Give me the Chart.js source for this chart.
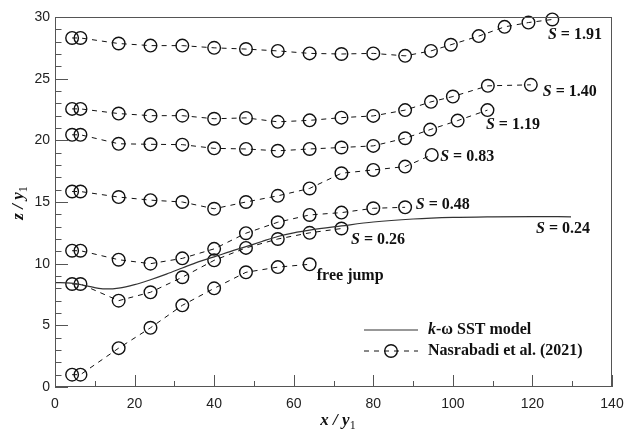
<!DOCTYPE html>
<html>
<head>
<meta charset="utf-8">
<script src="https://cdn.jsdelivr.net/npm/chart.js@4/dist/chart.umd.min.js"></script>
<style>
html,body{margin:0;padding:0;background:#fff;}
#wrap{width:636px;height:430px;position:relative;}
</style>
</head>
<body>
<div id="wrap"><canvas id="c" width="636" height="430"></canvas></div>
<script>
// ---- data ----
const xTicks = [0, 20, 40, 60, 80, 100, 120, 140];
const yTicks = [0, 5, 10, 15, 20, 25, 30];

const sstX = [0, 4, 8, 11, 13, 16, 20, 24, 28, 32, 36, 40, 44, 48, 52, 56, 60, 64, 72, 80, 90, 100, 110, 120, 129.7];
const sstZ = [8.47, 8.42, 8.2, 8.0, 7.95, 8.02, 8.3, 8.7, 9.15, 9.65, 10.15, 10.55, 10.98, 11.38, 11.8, 12.2, 12.5, 12.72, 13.06, 13.38, 13.62, 13.75, 13.8, 13.82, 13.8];

const s191X = [4.3, 6.4, 16, 24, 32, 40, 48, 56, 64, 72, 80, 88, 94.5, 99.5, 106.5, 113, 119, 125];
const s191Z = [28.3, 28.3, 27.85, 27.68, 27.68, 27.5, 27.4, 27.25, 27.05, 27.0, 27.05, 26.85, 27.25, 27.75, 28.45, 29.2, 29.55, 29.8];

const s140X = [4.3, 6.4, 16, 24, 32, 40, 48, 56, 64, 72, 80, 88, 94.5, 100, 108.8, 119.6];
const s140Z = [22.55, 22.55, 22.17, 22.0, 22.0, 21.75, 21.82, 21.5, 21.62, 21.84, 21.98, 22.45, 23.12, 23.55, 24.42, 24.5];

const s119X = [4.3, 6.4, 16, 24, 32, 40, 48, 56, 64, 72, 80, 88, 94.3, 101.2, 108.7];
const s119Z = [20.45, 20.45, 19.72, 19.68, 19.65, 19.35, 19.3, 19.15, 19.3, 19.42, 19.55, 20.17, 20.87, 21.6, 22.45];

const s083X = [4.3, 6.4, 16, 24, 32, 40, 48, 56, 64, 72, 80, 88, 94.7];
const s083Z = [15.85, 15.85, 15.4, 15.15, 15.0, 14.45, 15.0, 15.5, 16.1, 17.33, 17.6, 17.87, 18.82];

const s048X = [4.3, 6.4, 16, 24, 32, 40, 48, 56, 64, 72, 80, 88];
const s048Z = [11.05, 11.05, 10.32, 10.0, 10.43, 11.2, 12.47, 13.36, 13.95, 14.14, 14.49, 14.57];

const s026X = [4.3, 6.4, 16, 24, 32, 40, 48, 56, 64, 72];
const s026Z = [8.35, 8.35, 7.0, 7.68, 8.9, 10.27, 11.28, 12.0, 12.5, 12.85];

const freeX = [4.3, 6.4, 16, 24, 32, 40, 48, 56, 64];
const freeZ = [1.0, 1.0, 3.15, 4.8, 6.62, 8.0, 9.3, 9.72, 9.95];

// annotation labels: [prefix italic, rest, x, z]
const curveLabels = [
  ["S", " = 1.91", 123.9, 28.54],
  ["S", " = 1.40", 122.6, 23.9],
  ["S", " = 1.19", 108.3, 21.24],
  ["S", " = 0.83", 96.8, 18.67],
  ["S", " = 0.48", 90.7, 14.76],
  ["S", " = 0.26", 74.4, 11.92],
  ["S", " = 0.24", 120.9, 12.81],
  ["", "free jump", 65.8, 8.99]
];
const legendLabels = ["k", "-\u03c9 SST model", "Nasrabadi et al. (2021)"];

// ---- build ----
function pts(xs, zs){ return xs.map((x,i)=>({x:x, y:zs[i]})); }

const expStyle = {
  showLine: true,
  borderColor: '#111',
  borderWidth: 1,
  borderDash: [5, 5],
  pointRadius: 6.3,
  pointHoverRadius: 6.3,
  pointBorderWidth: 1.4,
  pointBorderColor: '#111',
  pointBackgroundColor: 'rgba(0,0,0,0)',
  fill: false,
  clip: false
};

const datasets = [
  {label:'k-ω SST model', data: pts(sstX, sstZ), showLine:true, borderColor:'#333', borderWidth:1.2,
   pointRadius:0, cubicInterpolationMode:'monotone', fill:false, clip:false},
  Object.assign({label:'S=1.91', data: pts(s191X, s191Z)}, expStyle),
  Object.assign({label:'S=1.40', data: pts(s140X, s140Z)}, expStyle),
  Object.assign({label:'S=1.19', data: pts(s119X, s119Z)}, expStyle),
  Object.assign({label:'S=0.83', data: pts(s083X, s083Z)}, expStyle),
  Object.assign({label:'S=0.48', data: pts(s048X, s048Z)}, expStyle),
  Object.assign({label:'S=0.26', data: pts(s026X, s026Z)}, expStyle),
  Object.assign({label:'free jump', data: pts(freeX, freeZ)}, expStyle)
];

const SERIF = '"Liberation Serif","Times New Roman",serif';

const decor = {
  id: 'decor',
  afterDraw(chart){
    const ctx = chart.ctx, a = chart.chartArea;
    const xs = chart.scales.x, ys = chart.scales.y;
    ctx.save();
    // frame
    ctx.strokeStyle = '#555';
    ctx.lineWidth = 1;
    ctx.strokeRect(a.left + 0.5, a.top + 0.5, a.right - a.left - 1, a.bottom - a.top - 1);
    // ticks (inward)
    ctx.beginPath();
    for (let v = 0; v <= 140; v += 10) {
      const px = Math.round(xs.getPixelForValue(v)) + 0.5;
      const len = (v % 20 === 0) ? 12 : 6;
      ctx.moveTo(px, a.bottom); ctx.lineTo(px, a.bottom - len);
    }
    for (let v = 0; v <= 30; v += 1) {
      const py = Math.round(ys.getPixelForValue(v)) + 0.5;
      const len = (v % 5 === 0) ? 13 : 6.5;
      ctx.moveTo(a.left, py); ctx.lineTo(a.left + len, py);
    }
    ctx.stroke();

    // curve labels
    ctx.fillStyle = '#111';
    ctx.textBaseline = 'middle';
    ctx.textAlign = 'left';
    curveLabels.forEach(l => {
      let px = xs.getPixelForValue(l[2]);
      const py = ys.getPixelForValue(l[3]);
      if (l[0]) {
        ctx.font = 'italic bold 16px ' + SERIF;
        ctx.fillText(l[0], px, py);
        px += ctx.measureText(l[0]).width;
      }
      ctx.font = 'bold 16px ' + SERIF;
      ctx.fillText(l[1], px, py);
    });

    // legend
    const lx0 = 364, lx1 = 418, ly1 = 330, ly2 = 351;
    ctx.strokeStyle = '#333'; ctx.lineWidth = 1.2; ctx.setLineDash([]);
    ctx.beginPath(); ctx.moveTo(lx0, ly1); ctx.lineTo(lx1, ly1); ctx.stroke();
    ctx.strokeStyle = '#111'; ctx.lineWidth = 1; ctx.setLineDash([5,5]);
    ctx.beginPath(); ctx.moveTo(lx0, ly2); ctx.lineTo(lx1, ly2); ctx.stroke();
    ctx.setLineDash([]);
    ctx.lineWidth = 1.4;
    ctx.beginPath(); ctx.arc((lx0+lx1)/2, ly2, 6.3, 0, Math.PI*2); ctx.stroke();
    let tx = 428;
    ctx.font = 'italic bold 16px ' + SERIF;
    ctx.fillText(legendLabels[0], tx, ly1);
    tx += ctx.measureText(legendLabels[0]).width;
    ctx.font = 'bold 16px ' + SERIF;
    ctx.fillText(legendLabels[1], tx, ly1);
    ctx.fillText(legendLabels[2], 428, ly2);

    // axis titles
    function title(cx, cy, letter, rot){
      ctx.save();
      ctx.translate(cx, cy);
      if (rot) ctx.rotate(-Math.PI/2);
      const p1 = letter + ' / ', p2 = 'y', p3 = '1';
      ctx.font = 'italic bold 17px ' + SERIF;
      const w1 = ctx.measureText(p1).width, w2 = ctx.measureText(p2).width;
      ctx.font = '12px ' + SERIF;
      const w3 = ctx.measureText(p3).width;
      let x = -(w1 + w2 + w3)/2;
      ctx.font = 'italic bold 17px ' + SERIF;
      ctx.textBaseline = 'alphabetic';
      ctx.fillText(p1, x, 5); x += w1;
      ctx.fillText(p2, x, 5); x += w2;
      ctx.font = '12px ' + SERIF;
      ctx.fillText(p3, x, 9);
      ctx.restore();
    }
    title(338, 420, 'x', false);
    title(18, 203, 'z', true);
    ctx.restore();
  }
};

new Chart(document.getElementById('c'), {
  type: 'scatter',
  data: { datasets },
  options: {
    responsive: false,
    animation: false,
    events: [],
    layout: { padding: { left: 0, right: 24, top: 17, bottom: 0 } },
    plugins: { legend: { display: false }, tooltip: { enabled: false } },
    scales: {
      x: {
        type: 'linear', min: 0, max: 140,
        afterFit(s){ s.height = 43; },
        afterBuildTicks(s){ s.ticks = xTicks.map(v => ({value: v})); },
        grid: { display: false, drawTicks: false },
        border: { display: false },
        ticks: { padding: 9, color: '#222', font: { family: '"Liberation Sans", Arial, sans-serif', size: 14 }, maxRotation: 0 }
      },
      y: {
        type: 'linear', min: 0, max: 30,
        afterFit(s){ s.width = 55; },
        afterBuildTicks(s){ s.ticks = yTicks.map(v => ({value: v})); },
        grid: { display: false, drawTicks: false },
        border: { display: false },
        ticks: { padding: 5, color: '#222', font: { family: '"Liberation Sans", Arial, sans-serif', size: 14 } }
      }
    }
  },
  plugins: [decor]
});
</script>
</body>
</html>
